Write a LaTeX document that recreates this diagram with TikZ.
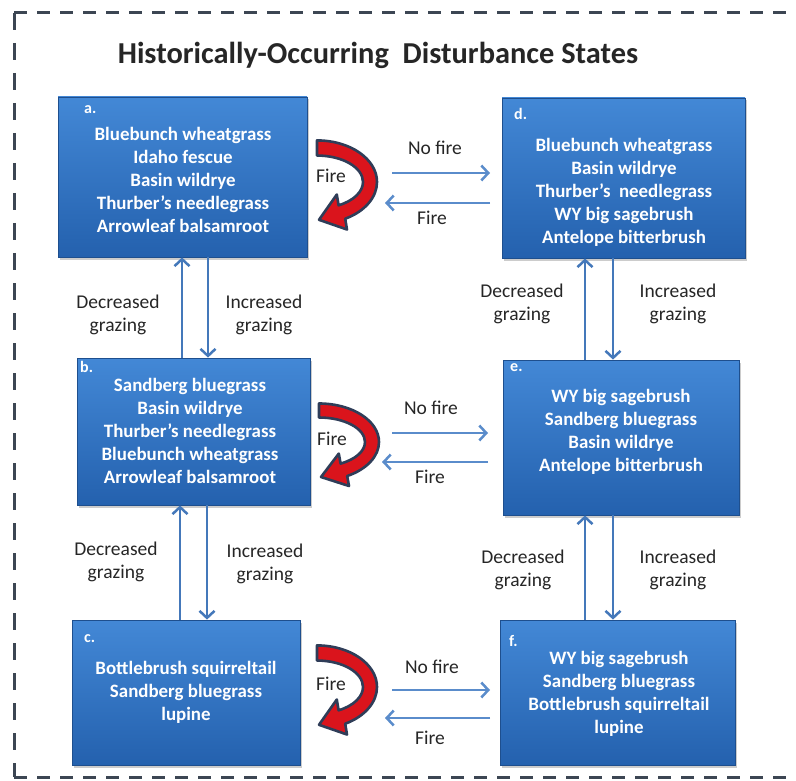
\documentclass[tikz,border=0pt]{standalone}
\usepackage{fontspec}
\setmainfont{Carlito}
\usetikzlibrary{arrows.meta,shadows}

\definecolor{boxtop}{HTML}{4388D6}
\definecolor{boxbot}{HTML}{2461AE}
\definecolor{boxedge}{HTML}{1E4F8E}
\definecolor{arrowblue}{HTML}{4478BA}
\definecolor{arrowlight}{HTML}{5A8CCB}
\definecolor{labelgray}{HTML}{262626}
\definecolor{framegray}{HTML}{3C4653}
\definecolor{firered}{HTML}{DA141C}
\definecolor{fireedge}{HTML}{2F3D58}

\tikzset{
  firecurl/.pic={
    \path[fill=firered, draw=fireedge, line width=2.6pt, line join=round]
      (0,-38.5) .. controls (33.1,-38.5) and (60,-21.3) .. (60,0)
      .. controls (60,14.2) and (47.8,27.3) .. (28.2,34.0)
      -- (30.0,44.0) -- (2,35) -- (19.8,11.6) -- (21.6,21.6)
      .. controls (36.6,17.35) and (46,9.06) .. (46,0)
      .. controls (46,-13.5) and (25.4,-24.5) .. (0,-24.5) -- cycle;
  }
}

\begin{document}
\begin{tikzpicture}[x=1pt,y=-1pt,
  box/.style={rectangle, inner sep=0pt, top color=boxtop, bottom color=boxbot,
    draw=boxedge, line width=0.8pt,
    drop shadow={shadow xshift=2pt, shadow yshift=-2.5pt, opacity=0.4}},
  species/.style={text=white, font=\bfseries\fontsize{18.9}{23}\selectfont,
    align=center, inner sep=0pt},
  tag/.style={text=white, font=\bfseries\fontsize{16}{18}\selectfont,
    inner sep=0pt, anchor=west},
  cond/.style={text=labelgray, font=\fontsize{19.5}{23}\selectfont,
    align=center, inner sep=0pt},
  varr/.style={draw=arrowblue, line width=2.5pt,
    -{Straight Barb[length=7pt,width=15pt]}},
  harr/.style={draw=arrowlight, line width=2.5pt,
    -{Straight Barb[length=7pt,width=15pt]}},
  frameh/.style={draw=framegray, line width=3pt, dash pattern=on 13pt off 10pt},
  framev/.style={draw=framegray, line width=3pt, dash pattern=on 17pt off 13pt}
]
\useasboundingbox (0,0) rectangle (796,781);
\clip (0,0) rectangle (796,781);
\fill[white] (0,0) rectangle (796,781);

% dashed outer frame (its right side lies beyond the page)
\draw[frameh] (14,13) -- (796,13);
\draw[framev] (14,13) -- (14,777);
\draw[frameh] (14,777) -- (796,777);

% title
\node[text=labelgray, font=\bfseries\fontsize{30.4}{35}\selectfont, inner sep=0pt]
  (title) at (378,55) {Historically-Occurring\ \ Disturbance States};

% state boxes
\node[box, minimum width=249pt, minimum height=160pt] (a) at (182.5,177) {};
\node[box, minimum width=233pt, minimum height=147pt] (b) at (193.5,431.5) {};
\node[box, minimum width=228pt, minimum height=145pt] (c) at (186,692.5) {};
\node[box, minimum width=243pt, minimum height=160pt] (d) at (623.5,178) {};
\node[box, minimum width=236pt, minimum height=155pt] (e) at (621,437.5) {};
\node[box, minimum width=235pt, minimum height=145pt] (f) at (617.5,692.5) {};

% box tags
\node[tag] (ta) at (84,110) {a.};
\node[tag] (tb) at (80,367) {b.};
\node[tag] (tc) at (84,639) {c.};
\node[tag] (td) at (514,114) {d.};
\node[tag] (te) at (510,368) {e.};
\node[tag] (tf) at (509,641) {f.};

% species lists
\node[species] (sa) at (183,180) {Bluebunch wheatgrass\\Idaho fescue\\Basin wildrye\\Thurber’s needlegrass\\Arrowleaf balsamroot};
\node[species] (sb) at (190,431) {Sandberg bluegrass\\Basin wildrye\\Thurber’s needlegrass\\Bluebunch wheatgrass\\Arrowleaf balsamroot};
\node[species] (sc) at (186,692) {Bottlebrush squirreltail\\Sandberg bluegrass\\lupine};
\node[species] (sd) at (624,192) {Bluebunch wheatgrass\\Basin wildrye\\Thurber’s\ \ needlegrass\\WY big sagebrush\\Antelope bitterbrush};
\node[species] (se) at (621,432) {WY big sagebrush\\Sandberg bluegrass\\Basin wildrye\\Antelope bitterbrush};
\node[species] (sf) at (619,694) {WY big sagebrush\\Sandberg bluegrass\\Bottlebrush squirreltail\\lupine};

% grazing transitions (vertical)
\coordinate (xl1) at (182,0);
\coordinate (xl2) at (208,0);
\coordinate (xl3) at (180,0);
\coordinate (xl4) at (207,0);
\coordinate (xr1) at (585,0);
\coordinate (xr2) at (613,0);
\draw[varr] (b.north -| xl1) -- (a.south -| xl1);
\draw[varr] (a.south -| xl2) -- (b.north -| xl2);
\draw[varr] (c.north -| xl3) -- (b.south -| xl3);
\draw[varr] (b.south -| xl4) -- (c.north -| xl4);
\draw[varr] (e.north -| xr1) -- (d.south -| xr1);
\draw[varr] (d.south -| xr2) -- (e.north -| xr2);
\draw[varr] (f.north -| xr1) -- (e.south -| xr1);
\draw[varr] (e.south -| xr2) -- (f.north -| xr2);

\node[cond] (g1) at (118,315) {Decreased\\grazing};
\node[cond] (g2) at (264,315) {Increased\\grazing};
\node[cond] (g3) at (116,562) {Decreased\\grazing};
\node[cond] (g4) at (265,564) {Increased\\grazing};
\node[cond] (g5) at (522,304) {Decreased\\grazing};
\node[cond] (g6) at (678,304) {Increased\\grazing};
\node[cond] (g7) at (523,570) {Decreased\\grazing};
\node[cond] (g8) at (678,570) {Increased\\grazing};

% fire transitions (horizontal)
\coordinate (n1s) at (392,173); \coordinate (n1e) at (490,173);
\coordinate (f1s) at (490,203); \coordinate (f1e) at (385,203);
\coordinate (n2s) at (392,433); \coordinate (n2e) at (488,433);
\coordinate (f2s) at (488,462); \coordinate (f2e) at (382,462);
\coordinate (n3s) at (392,690); \coordinate (n3e) at (490,690);
\coordinate (f3s) at (490,718); \coordinate (f3e) at (385,718);
\draw[harr] (n1s) -- (n1e);
\draw[harr] (f1s) -- (f1e);
\draw[harr] (n2s) -- (n2e);
\draw[harr] (f2s) -- (f2e);
\draw[harr] (n3s) -- (n3e);
\draw[harr] (f3s) -- (f3e);

\node[cond] (nf1) at (435,148) {No fire};
\node[cond] (fi1) at (432,218) {Fire};
\node[cond] (nf2) at (431,408) {No fire};
\node[cond] (fi2) at (430,477) {Fire};
\node[cond] (nf3) at (432,667) {No fire};
\node[cond] (fi3) at (430,738) {Fire};

% fire within a state (curled red arrows)
\pic[yscale=1.08] at (317,182) {firecurl};
\pic at (319,442) {firecurl};
\pic[yscale=1.08] at (317,687) {firecurl};
\node[cond] (c1) at (331,176) {Fire};
\node[cond] (c2) at (332,439) {Fire};
\node[cond] (c3) at (331,684) {Fire};
\end{tikzpicture}
\end{document}
